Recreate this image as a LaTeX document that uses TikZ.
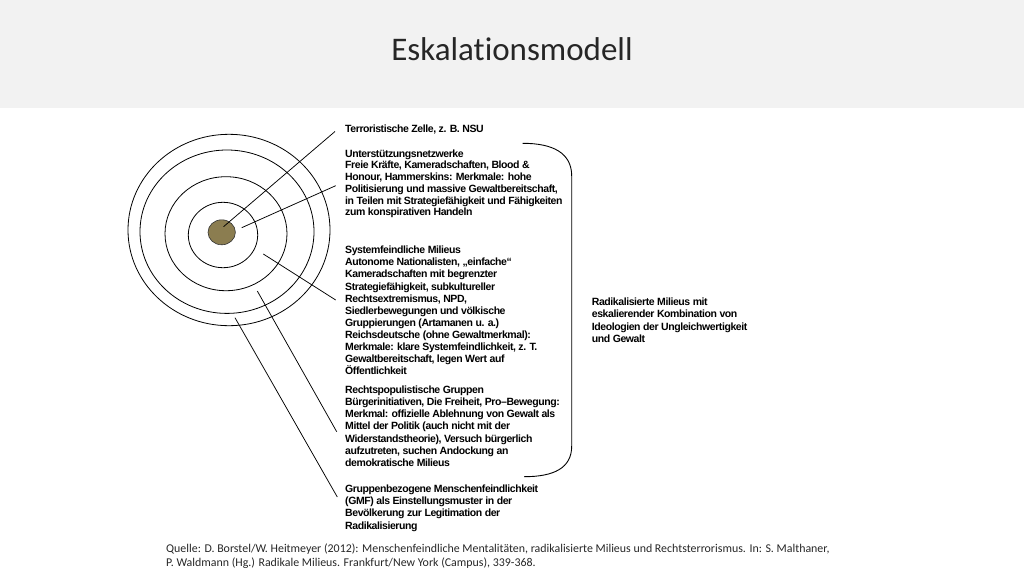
\documentclass[tikz,border=0pt]{standalone}
\usepackage{fontspec}
\setmainfont{Liberation Sans}
\newfontfamily\diagfont[LetterSpace=-4]{Liberation Sans}
\newfontfamily\calfont[Ligatures=NoCommon]{Carlito}
\definecolor{headgray}{HTML}{F2F2F2}
\definecolor{dotfill}{HTML}{8B7D50}
\definecolor{foottext}{HTML}{262626}
\begin{document}
\begin{tikzpicture}[x=1pt,y=-1pt,
  ring/.style={draw=black,line width=0.8pt},
  pointer/.style={draw=black,line width=0.75pt},
  block/.style={anchor=north west,inner sep=0pt,align=left,
    font=\diagfont\bfseries\fontsize{10.5}{12}\selectfont},
]
\useasboundingbox (0,0) rectangle (1024,576);
% header
\fill[headgray] (0,0) rectangle (1024,108);
\node[anchor=base,inner sep=0pt,font=\calfont\fontsize{33}{36}\selectfont,text=black!85] (title) at (512,60.7) {Eskalationsmodell};

% rings
\draw[ring] (229,230) ellipse [x radius=101,y radius=95.7];
\draw[ring] (227,231.7) ellipse [x radius=87,y radius=81.7];
\draw[ring] (226,233.7) ellipse [x radius=61,y radius=57];
\draw[ring] (223,235) ellipse [x radius=34.7,y radius=32.7];
\draw[fill=dotfill,draw=black!80,line width=0.6pt] (221.7,232.3) ellipse [x radius=13.7,y radius=12.5];

% text blocks
\node[block] (t1) at (345,124.3) {Terroristische Zelle, z. B. NSU};
\node[block,font=\diagfont\bfseries\fontsize{10.5}{11.75}\selectfont] (t2) at (345,149.3) {Unterstützungsnetzwerke\\
Freie Kräfte, Kameradschaften, Blood \&\\
Honour, Hammerskins: Merkmale: hohe\\
Politisierung und massive Gewaltbereitschaft,\\
in Teilen mit Strategiefähigkeit und Fähigkeiten\\
zum konspirativen Handeln};
\node[block,font=\diagfont\bfseries\fontsize{10.5}{12.07}\selectfont] (t3) at (345,246) {Systemfeindliche Milieus\\
Autonome Nationalisten, „einfache“\\
Kameradschaften mit begrenzter\\
Strategiefähigkeit, subkultureller\\
Rechtsextremismus, NPD,\\
Siedlerbewegungen und völkische\\
Gruppierungen (Artamanen u. a.)\\
Reichsdeutsche (ohne Gewaltmerkmal):\\
Merkmale: klare Systemfeindlichkeit, z. T.\\
Gewaltbereitschaft, legen Wert auf\\
Öffentlichkeit};
\node[block,font=\diagfont\bfseries\fontsize{10.5}{12.05}\selectfont] (t4) at (345,386) {Rechtspopulistische Gruppen\\
Bürgerinitiativen, Die Freiheit, Pro–Bewegung:\\
Merkmal: offizielle Ablehnung von Gewalt als\\
Mittel der Politik (auch nicht mit der\\
Widerstandstheorie), Versuch bürgerlich\\
aufzutreten, suchen Andockung an\\
demokratische Milieus};
\node[block,font=\diagfont\bfseries\fontsize{10.5}{12.3}\selectfont] (t5) at (345,484.3) {Gruppenbezogene Menschenfeindlichkeit\\
(GMF) als Einstellungsmuster in der\\
Bevölkerung zur Legitimation der\\
Radikalisierung};
\node[block,font=\diagfont\bfseries\fontsize{10.5}{12.2}\selectfont] (t6) at (591.7,297.8) {Radikalisierte Milieus mit\\
eskalierender Kombination von\\
Ideologien der Ungleichwertigkeit\\
und Gewalt};

% pointer lines
\coordinate (s1) at (223.5,226.7);
\coordinate (s2) at (241.7,227.7);
\coordinate (s3) at (263.3,254);
\coordinate (s4) at (257.3,291);
\coordinate (s5) at (235,317.7);
\coordinate (e1) at (335,131.5);
\coordinate (e2) at (335.7,185.7);
\coordinate (e3) at (335.7,300);
\coordinate (e4) at (336.7,431.7);
\coordinate (e5) at (337.3,497);
\draw[pointer] (s1) -- (e1);
\draw[pointer] (s2) -- (e2);
\draw[pointer] (s3) -- (e3);
\draw[pointer] (s4) -- (e4);
\draw[pointer] (s5) -- (e5);

% bracket
\coordinate (b1) at (522.7,143.3);
\coordinate (b2) at (571.7,176);
\coordinate (b3) at (571.7,446);
\coordinate (b4) at (524,476.7);
\draw[line width=0.9pt] (b1) .. controls (553,143.3) and (571.7,153) .. (b2) -- (b3) .. controls (571.7,468) and (554,476.7) .. (b4);

% footer
\node[anchor=base west,inner sep=0pt,align=left,text=foottext,
  font=\calfont\fontsize{11.9}{14}\selectfont] (src) at (166,566.5) {Quelle: D. Borstel/W. Heitmeyer (2012): Menschenfeindliche Mentalitäten, radikalisierte Milieus und Rechtsterrorismus. In: S. Malthaner,\\
P. Waldmann (Hg.) Radikale Milieus. Frankfurt/New York (Campus), 339-368.};
\end{tikzpicture}
\end{document}
